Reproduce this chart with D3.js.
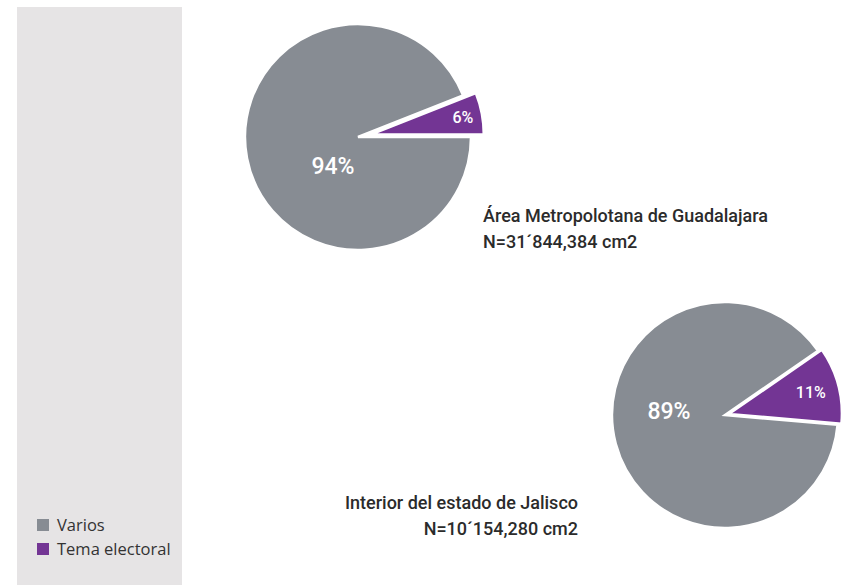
<!DOCTYPE html>
<html>
<head>
<meta charset="utf-8">
<script src="https://cdn.jsdelivr.net/npm/d3@7"></script>
<style>
  html, body { margin: 0; padding: 0; background: #fff; }
</style>
</head>
<body>
<div id="chart"></div>
<script>
// categorias y valores (porcentajes)
const categories = ["Varios", "Tema electoral"];
const amgValues = [94, 6];
const interiorValues = [89, 11];
const amgLabels = ["Área Metropolotana de Guadalajara", "N=31´844,384 cm2"];
const interiorLabels = ["Interior del estado de Jalisco", "N=10´154,280 cm2"];

const width = 845, height = 585;

const color = d3.scaleOrdinal()
    .domain(categories)
    .range(["#878c93", "#733594"]);

const svg = d3.select("#chart").append("svg")
    .attr("width", width)
    .attr("height", height);

// panel gris de la leyenda
svg.append("rect")
    .attr("x", 17).attr("y", 7)
    .attr("width", 165).attr("height", 578)
    .attr("fill", "#e6e4e5");

function drawPie(cfg) {
    const pie = d3.pie()
        .sort(null)
        .startAngle(cfg.start)
        .endAngle(cfg.start + 2 * Math.PI);

    const arc = d3.arc().innerRadius(0).outerRadius(cfg.r);
    const arcs = pie(cfg.values);

    const g = svg.append("g")
        .attr("transform", `translate(${cfg.cx},${cfg.cy})`);

    // desplaza la rebanada pequeña hacia afuera
    const shift = (d, i) => {
        if (i === 0) return [0, 0];
        const mid = (d.startAngle + d.endAngle) / 2;
        return [Math.sin(mid) * cfg.explode, -Math.cos(mid) * cfg.explode];
    };

    g.selectAll("path")
      .data(arcs)
      .join("path")
        .attr("transform", (d, i) => `translate(${shift(d, i)})`)
        .attr("d", arc)
        .attr("fill", (d, i) => color(categories[i]))
        .attr("stroke", "white")
        .attr("stroke-width", 2.5)
        .attr("stroke-linejoin", "miter");

    // etiquetas de porcentaje
    g.selectAll("text.pct")
      .data(arcs)
      .join("text")
        .attr("class", "pct")
        .attr("transform", (d, i) => {
            let p;
            if (i === 0) {
                p = cfg.bigLabel;
            } else {
                const mid = (d.startAngle + d.endAngle) / 2;
                const s = shift(d, i);
                p = [Math.sin(mid) * cfg.r * cfg.smallR + s[0], -Math.cos(mid) * cfg.r * cfg.smallR + s[1]];
            }
            return `translate(${p})`;
        })
        .attr("text-anchor", "middle")
        .attr("dy", "0.36em")
        .attr("fill", "white")
        .attr("font-family", "Roboto, sans-serif")
        .attr("font-weight", 500)
        .attr("font-size", (d, i) => i === 0 ? 23 : 16)
        .text(d => d.data + "%");

    // titulo del grafico
    svg.append("g")
        .selectAll("text")
        .data(cfg.labels)
        .join("text")
          .attr("x", cfg.tx)
          .attr("y", (d, i) => cfg.ty + i * 26)
          .attr("text-anchor", cfg.anchor)
          .attr("fill", "#2b2b2b")
          .attr("font-family", "Roboto, sans-serif")
          .attr("font-weight", 500)
          .attr("font-size", 18)
          .text(d => d);
}

drawPie({
    values: amgValues, cx: 358, cy: 137, r: 113,
    start: Math.PI / 2, explode: 13, smallR: 0.83,
    bigLabel: [-25, 29],
    labels: amgLabels, tx: 483, ty: 222, anchor: "start"
});

drawPie({
    values: interiorValues, cx: 725, cy: 415, r: 113,
    start: 95 * Math.PI / 180, explode: 4, smallR: 0.75,
    bigLabel: [-56, -4],
    labels: interiorLabels, tx: 578, ty: 509, anchor: "end"
});

// leyenda
const legend = svg.append("g")
    .selectAll("g")
    .data(categories)
    .join("g")
      .attr("transform", (d, i) => `translate(37,${519 + i * 24})`);

legend.append("rect")
    .attr("width", 12).attr("height", 12)
    .attr("fill", d => color(d));

legend.append("text")
    .attr("x", 20).attr("y", 6)
    .attr("dy", "0.35em")
    .attr("fill", "#333")
    .attr("font-family", "'Open Sans', sans-serif")
    .attr("font-size", 16.5)
    .text(d => d);
</script>
</body>
</html>
